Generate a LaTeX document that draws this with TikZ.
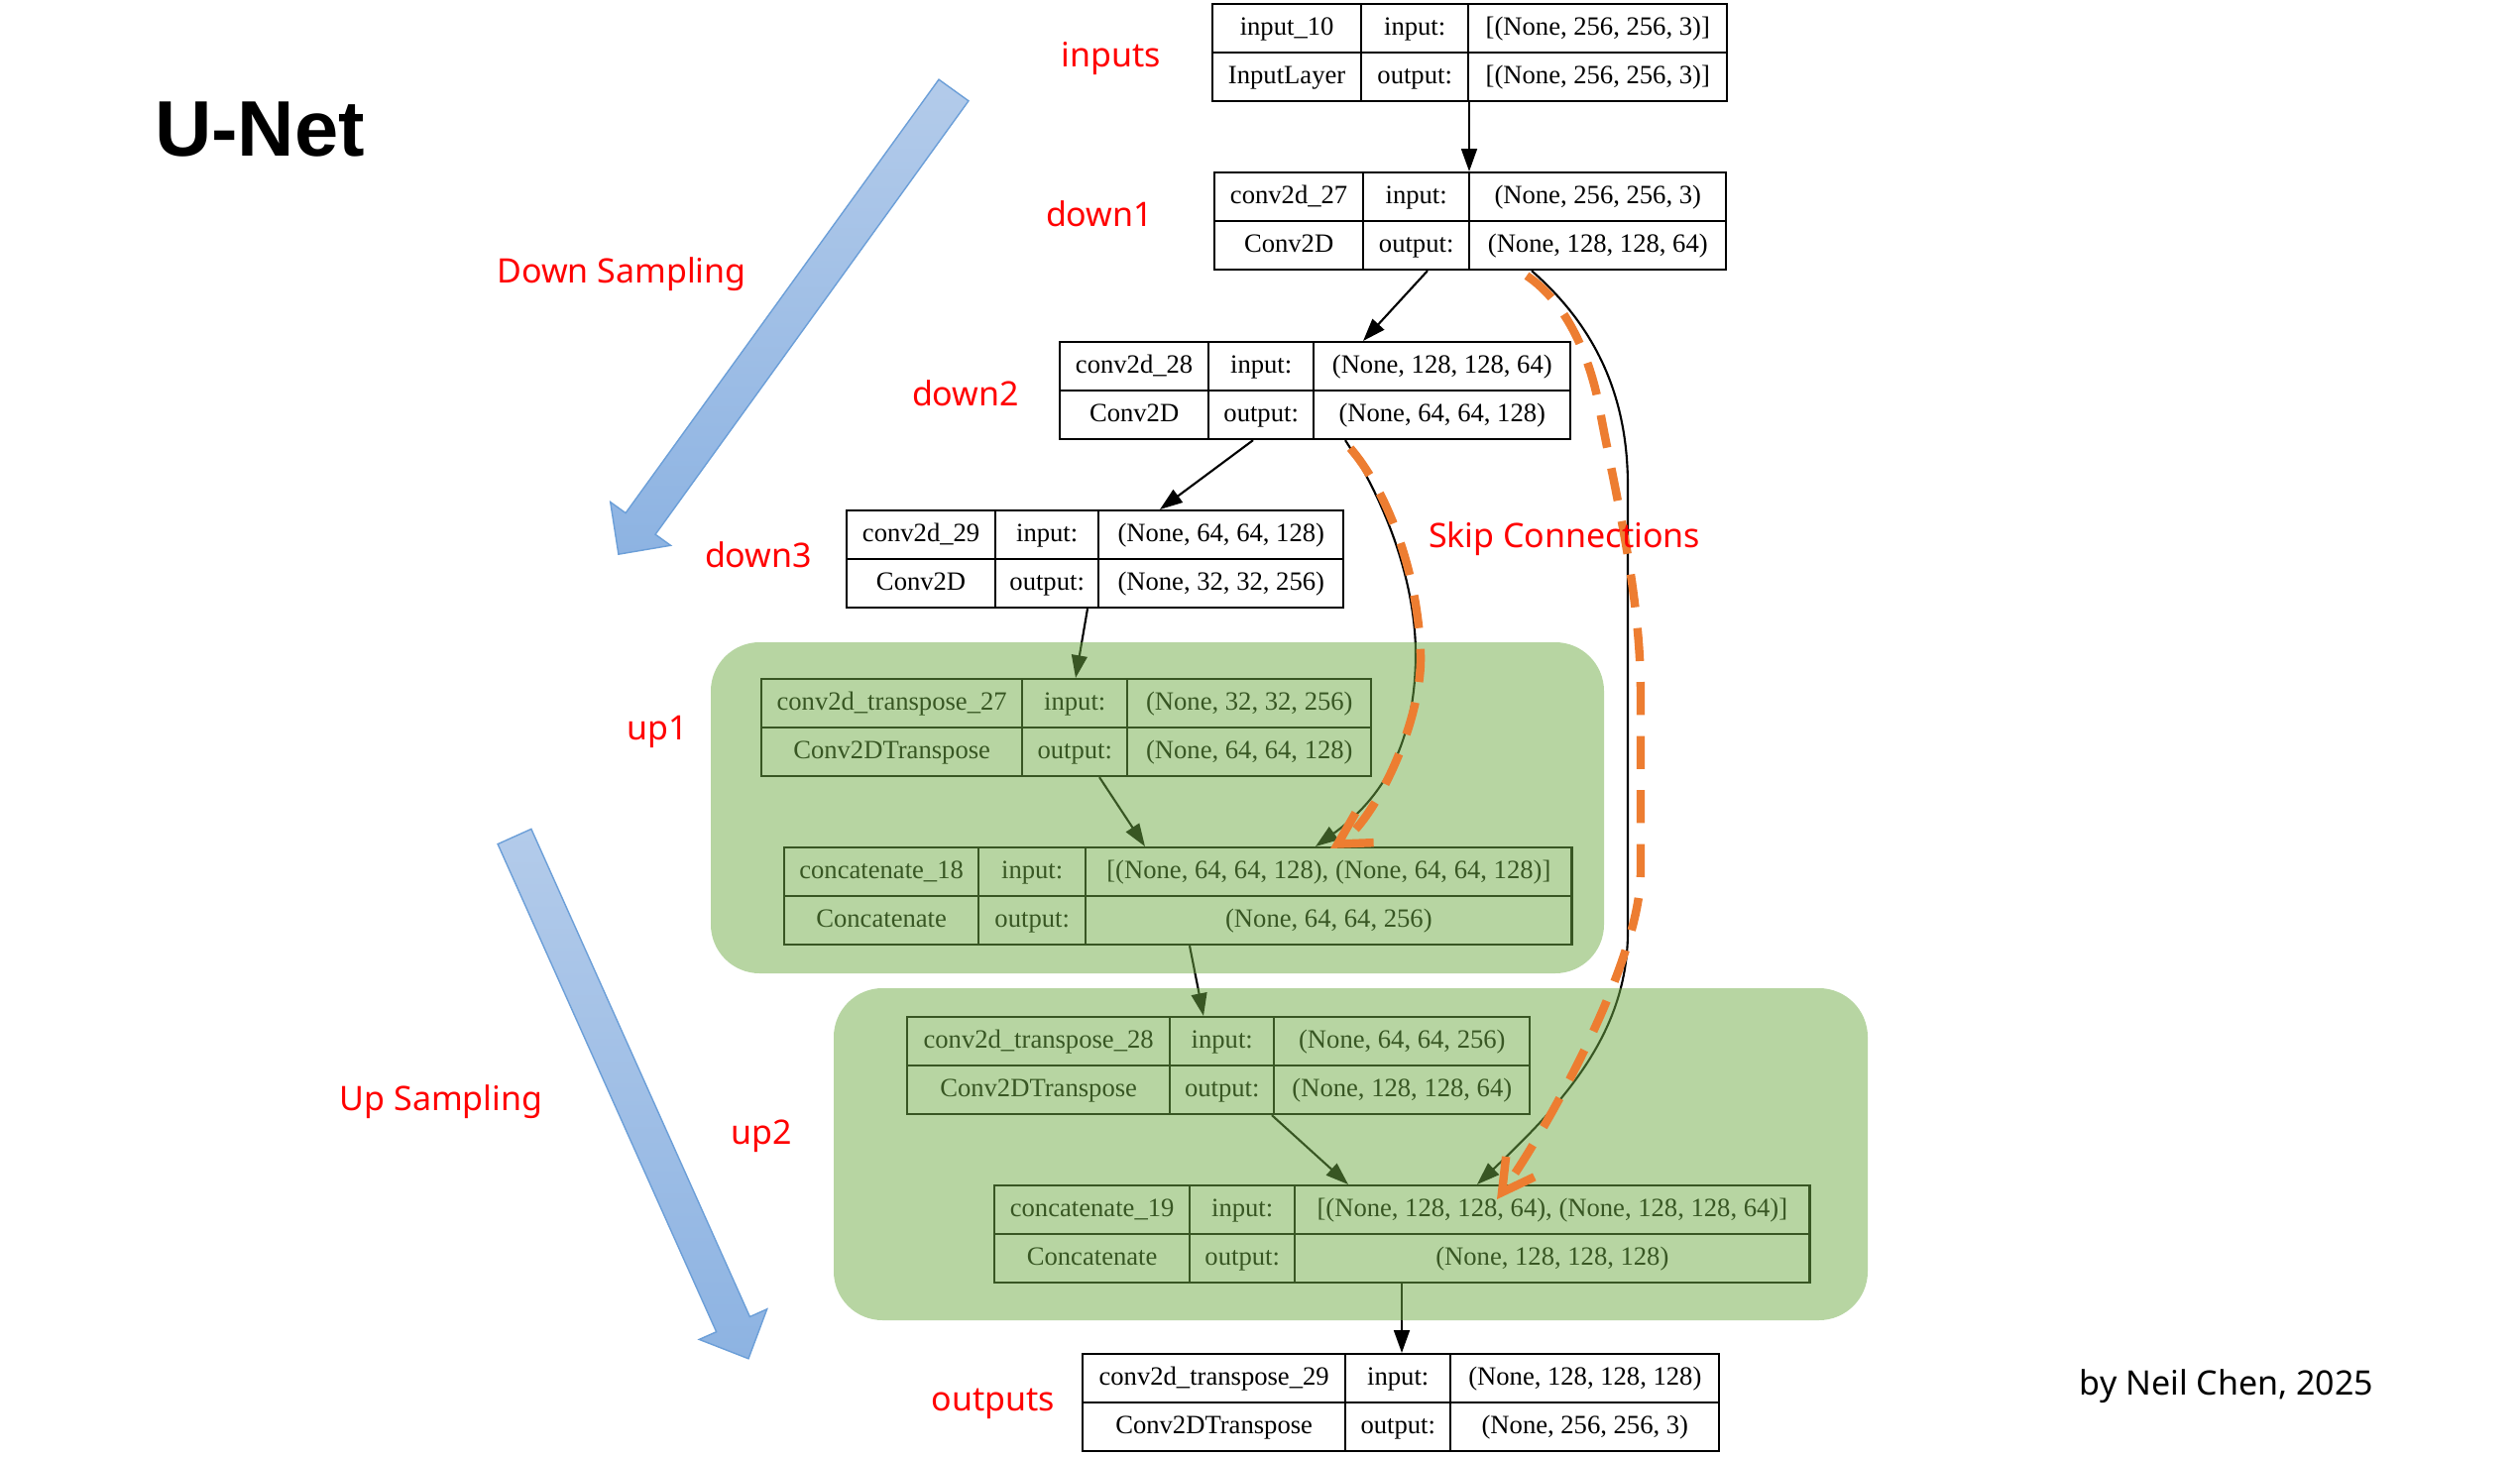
\documentclass[tikz,border=0pt]{standalone}
\usepackage{fontspec}
\setmainfont{Liberation Serif}
\newfontfamily\labelfont{Noto Sans}
\newfontfamily\titlefont{Liberation Sans}
\usetikzlibrary{matrix,calc,arrows.meta}

\definecolor{skiporange}{HTML}{ED7D31}
\definecolor{groupgreen}{HTML}{70AD47}
\definecolor{flowblueA}{HTML}{B3CBEA}
\definecolor{flowblueB}{HTML}{8DB3E2}
\definecolor{flowedge}{HTML}{6C9FD8}
\definecolor{labelred}{HTML}{FF0000}

\tikzset{
  layer/.style={matrix of nodes, anchor=north west, inner sep=0pt, outer sep=0pt,
    column sep=-0.6pt, row sep=-0.6pt,
    nodes={draw, line width=0.6pt, minimum height=0.49cm, inner sep=0pt, outer sep=0pt,
      text height=5.2pt, text depth=1.5pt, font={\fontsize{7.57pt}{9pt}\selectfont}}},
  cols/.style n args={3}{column 1/.style={nodes={minimum width=#1cm}},
    column 2/.style={nodes={minimum width=#2cm}},
    column 3/.style={nodes={minimum width=#3cm}}},
  flow/.style={line width=0.6pt, -{Triangle[length=6.5pt,width=4.5pt]}},
  skip/.style={skiporange, line width=2.4pt, dash pattern=on 9.5pt off 6pt,
    -{Straight Barb[length=9pt,width=10pt]}},
  group/.style={fill=groupgreen, fill opacity=0.5, rounded corners=14pt},
  stage/.style={text=labelred, font={\labelfont\fontsize{9.67pt}{11pt}\selectfont}, anchor=base},
  bigarrow/.style={draw=flowedge, line width=0.4pt, top color=flowblueA, bottom color=flowblueB},
}

\begin{document}
\begin{tikzpicture}[x=0.01cm, y=-0.01cm]
\fill[white] (0,0) rectangle (2542,1470);
\useasboundingbox (0,0) rectangle (2542,1470);

% ---- layer tables ----
\matrix (in10) [layer, cols={1.50}{1.08}{2.61}] at (1222,3) {
  input\_10 & input: & {[}(None, 256, 256, 3)] \\
  InputLayer & output: & {[}(None, 256, 256, 3)] \\
};
\matrix (c27) [layer, cols={1.50}{1.07}{2.59}] at (1224,173) {
  conv2d\_27 & input: & (None, 256, 256, 3) \\
  Conv2D & output: & (None, 128, 128, 64) \\
};
\matrix (c28) [layer, cols={1.50}{1.06}{2.59}] at (1068,344) {
  conv2d\_28 & input: & (None, 128, 128, 64) \\
  Conv2D & output: & (None, 64, 64, 128) \\
};
\matrix (c29) [layer, cols={1.50}{1.04}{2.47}] at (853,514) {
  conv2d\_29 & input: & (None, 64, 64, 128) \\
  Conv2D & output: & (None, 32, 32, 256) \\
};
\matrix (ct27) [layer, cols={2.63}{1.06}{2.46}] at (767,684) {
  conv2d\_transpose\_27 & input: & (None, 32, 32, 256) \\
  Conv2DTranspose & output: & (None, 64, 64, 128) \\
};
\matrix (cat18) [layer, cols={1.96}{1.08}{4.90}] at (790,854) {
  concatenate\_18 & input: & {[}(None, 64, 64, 128), (None, 64, 64, 128)] \\
  Concatenate & output: & (None, 64, 64, 256) \\
};
\matrix (ct28) [layer, cols={2.65}{1.05}{2.58}] at (914,1025) {
  conv2d\_transpose\_28 & input: & (None, 64, 64, 256) \\
  Conv2DTranspose & output: & (None, 128, 128, 64) \\
};
\matrix (cat19) [layer, cols={1.97}{1.06}{5.19}] at (1002,1195) {
  concatenate\_19 & input: & {[}(None, 128, 128, 64), (None, 128, 128, 64)] \\
  Concatenate & output: & (None, 128, 128, 128) \\
};
\matrix (ct29) [layer, cols={2.65}{1.06}{2.71}] at (1091,1365) {
  conv2d\_transpose\_29 & input: & (None, 128, 128, 128) \\
  Conv2DTranspose & output: & (None, 256, 256, 3) \\
};

% ---- data flow edges ----
\draw[flow] ($(in10.south west)+(260,0)$) -- ($(c27.north west)+(258,0)$);
\draw[flow] ($(c27.south west)+(216,0)$) -- ($(c28.north west)+(307,0)$);
\draw[flow] ($(c28.south west)+(196,0)$) -- ($(c29.north west)+(317,0)$);
\draw[flow] ($(c29.south west)+(244,0)$) -- ($(ct27.north west)+(318,0)$);
\draw[flow] ($(ct27.south west)+(342,0)$) -- ($(cat18.north west)+(365,0)$);
\draw[flow] ($(cat18.south west)+(410,0)$) -- ($(ct28.north west)+(300,0)$);
\draw[flow] ($(ct28.south west)+(369,0)$) -- ($(cat19.north west)+(358,0)$);
\draw[flow] ($(cat19.south west)+(412,0)$) -- ($(ct29.north west)+(323,0)$);
\draw[flow] ($(c28.south west)+(289,0)$) .. controls (1400,510) and (1428,590) .. (1428,660)
  .. controls (1428,750) and (1395,805) .. ($(cat18.north west)+(537,0)$);
\draw[flow] ($(c27.south west)+(321,0)$) .. controls (1610,330) and (1642,400) .. (1642,490)
  -- (1642,940) .. controls (1642,1040) and (1580,1110) .. ($(cat19.north west)+(488,0)$);

% ---- up-sampling groups ----
\fill[group] (717,648) rectangle (1618,982);
\fill[group] (841,997) rectangle (1884,1332);

% ---- skip connections ----
\draw[skip] ($(c28.south west)+(294,8)$) .. controls (1395,490) and (1430,570) .. (1433,660)
  .. controls (1435,730) and (1385,830) .. ($(cat18.north west)+(552,2)$);
\draw[skip] ($(c27.south west)+(316,5)$) .. controls (1580,305) and (1605,360) .. (1615,420)
  .. controls (1630,500) and (1655,600) .. (1655,700) -- (1655,880)
  .. controls (1655,970) and (1560,1140) .. ($(cat19.north west)+(508,15)$);

% ---- sampling direction arrows ----
\draw[bigarrow] (977,101.8) -- (661.1,539.2) -- (676.5,550.3) -- (623.9,559.2)
  -- (615.7,506.5) -- (631.1,517.6) -- (947,80.2) -- cycle;
\draw[bigarrow] (535.9,836.4) -- (756.4,1328.5) -- (773.7,1320.8) -- (755.0,1370.8)
  -- (705.3,1351.4) -- (722.6,1343.7) -- (502.1,851.6) -- cycle;

% ---- labels ----
\node[anchor=base, font={\titlefont\bfseries\fontsize{22.6pt}{26pt}\selectfont}] (title) at (262,158) {U-Net};
\node[stage] (lin) at (1121,68) {inputs};
\node[stage] (ld1) at (1109,229) {down1};
\node[stage] (ld2) at (974,410) {down2};
\node[stage] (ld3) at (765,572) {down3};
\node[stage] (lu1) at (663,746) {up1};
\node[stage] (lu2) at (768,1154) {up2};
\node[stage] (lout) at (1002,1423) {outputs};
\node[stage] (ldown) at (627,286) {Down Sampling};
\node[stage] (lup) at (445,1120) {Up Sampling};
\node[stage] (lskip) at (1578,553) {Skip Connections};
\node[anchor=base, font={\labelfont\fontsize{9.67pt}{11pt}\selectfont}] (credit) at (2246,1407) {by Neil Chen, 2025};
\end{tikzpicture}
\end{document}
